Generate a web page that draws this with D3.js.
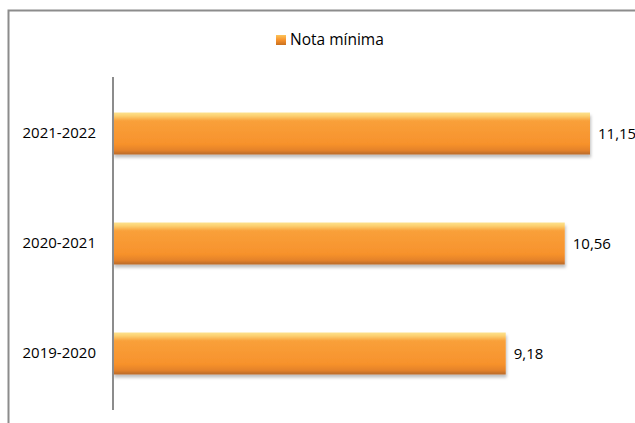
<!DOCTYPE html>
<html><head><meta charset="utf-8">
<script src="https://cdn.jsdelivr.net/npm/d3@7"></script>
<style>body{margin:0;background:#fff;}svg{display:block;}</style>
</head><body>
<script>
const categories = ["2021-2022", "2020-2021", "2019-2020"];
const values = [11.15, 10.56, 9.18];
const valueLabels = ["11,15", "10,56", "9,18"];
const seriesName = "Nota mínima";

const W = 635, H = 423;
const svg = d3.select("body").append("svg").attr("width", W).attr("height", H);
const defs = svg.append("defs");
const g = defs.append("linearGradient").attr("id","barg").attr("x1",0).attr("y1",0).attr("x2",0).attr("y2",1);
[[0,"#fde28e"],[0.08,"#fcd070"],[0.2,"#f9a03a"],[0.75,"#f7922c"],[0.9,"#e4822a"],[1,"#b8692a"]].forEach(([o,c])=>g.append("stop").attr("offset",o).attr("stop-color",c));
const gs = defs.append("linearGradient").attr("id","sq").attr("x1",0).attr("y1",0).attr("x2",0).attr("y2",1);
[[0,"#fcc45a"],[0.5,"#f7922c"],[1,"#c9701f"]].forEach(([o,c])=>gs.append("stop").attr("offset",o).attr("stop-color",c));
const f = defs.append("filter").attr("id","sh").attr("x","-5%").attr("y","-20%").attr("width","115%").attr("height","160%");
f.append("feDropShadow").attr("dx",1).attr("dy",3).attr("stdDeviation",1.8).attr("flood-color","#000").attr("flood-opacity",0.25);

// chart border
svg.append("path").attr("d","M8.5,423 L8.5,10.5 L635,10.5").attr("fill","none").attr("stroke","#8c8c8c").attr("stroke-width",2);

const x0 = 113, plotTop = 77, plotBot = 410;
const x = d3.scaleLinear().domain([0, 11.15]).range([x0, 590]);
const y = d3.scaleBand().domain(categories).range([plotTop, plotBot]).paddingInner(0.618).paddingOuter(0.3227);

svg.selectAll("rect.bar").data(categories).join("rect").attr("class","bar")
  .attr("x", x(0)).attr("y", d => y(d))
  .attr("width", (d,i) => x(values[i]) - x(0)).attr("height", y.bandwidth())
  .attr("fill","url(#barg)").attr("filter","url(#sh)");

// axis
const ax = svg.append("g").attr("transform",`translate(${x0},0)`)
  .call(d3.axisLeft(y).tickSize(0).tickPadding(17));
ax.select(".domain").attr("stroke","#8c8c8c").attr("stroke-width",2).attr("d",`M0,${plotTop}V${plotBot}`);
ax.selectAll("text").attr("font-family","'Open Sans', sans-serif").attr("font-size",15).attr("fill","#000");

svg.selectAll("text.val").data(categories).join("text").attr("class","val")
  .attr("x", (d,i) => x(values[i]) + 8).attr("y", d => y(d) + y.bandwidth()/2)
  .attr("dy","0.35em").attr("font-family","'Open Sans', sans-serif").attr("font-size",15)
  .text((d,i) => valueLabels[i]);

// legend
svg.append("rect").attr("x",276).attr("y",35).attr("width",10).attr("height",10).attr("fill","url(#sq)");
svg.append("text").attr("x",290).attr("y",40).attr("dy","0.35em")
  .attr("font-family","'Open Sans', sans-serif").attr("font-size",15.5).text(seriesName);
</script>
</body></html>
